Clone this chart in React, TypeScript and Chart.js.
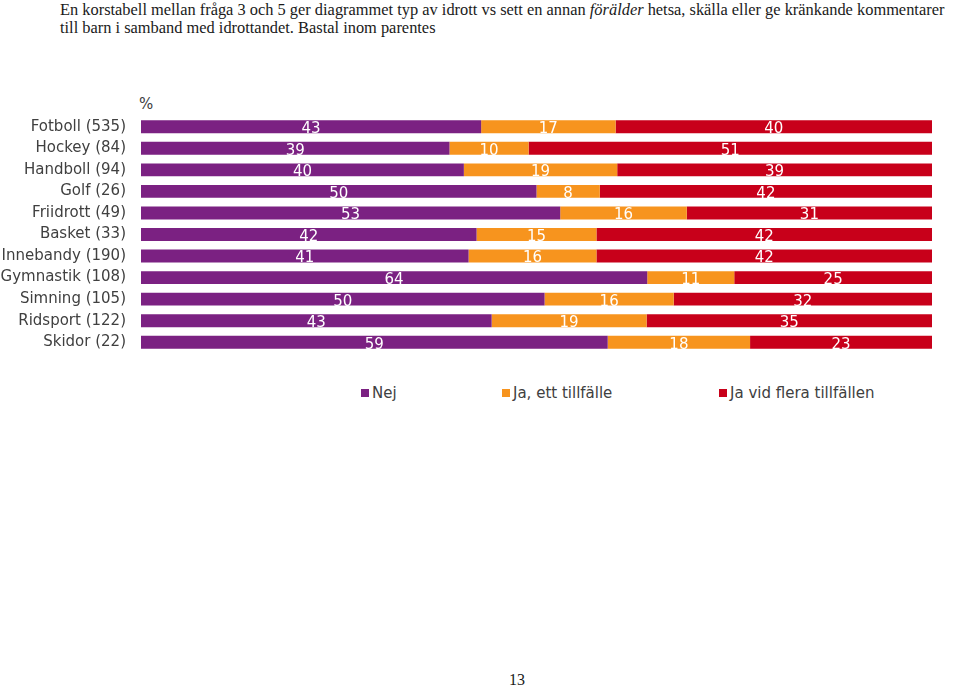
import React, { useEffect, useRef } from "react";
import { Chart, registerables } from "chart.js";

Chart.register(...registerables);

const categories = [
  "Fotboll (535)",
  "Hockey (84)",
  "Handboll (94)",
  "Golf (26)",
  "Friidrott (49)",
  "Basket (33)",
  "Innebandy (190)",
  "Gymnastik (108)",
  "Simning (105)",
  "Ridsport (122)",
  "Skidor (22)",
];
const nej = [43, 39, 40, 50, 53, 42, 41, 64, 50, 43, 59];
const jaEtt = [17, 10, 19, 8, 16, 15, 16, 11, 16, 19, 18];
const jaFlera = [40, 51, 39, 42, 31, 42, 42, 25, 32, 35, 23];
const seriesNames = ["Nej", "Ja, ett tillfälle", "Ja vid flera tillfällen"];
const seriesColors = ["#7b2182", "#f7941e", "#c8001a"];

const FONT = "'DejaVu Sans', Verdana, sans-serif";

export default function App() {
  const ref = useRef<HTMLCanvasElement | null>(null);

  useEffect(() => {
    if (!ref.current) return;
    const raw = [nej, jaEtt, jaFlera];
    const totals = categories.map((_, i) => nej[i] + jaEtt[i] + jaFlera[i]);
    const labelPlugin = {
      id: "segLabels",
      afterDatasetsDraw(chart: any) {
        const ctx = chart.ctx;
        ctx.save();
        ctx.fillStyle = "#ffffff";
        ctx.font = `15px ${FONT}`;
        ctx.textAlign = "center";
        ctx.textBaseline = "middle";
        chart.data.datasets.forEach((ds: any, di: number) => {
          const meta = chart.getDatasetMeta(di);
          meta.data.forEach((bar: any, i: number) => {
            const cx = (bar.x + bar.base) / 2;
            ctx.fillText(String(raw[di][i]), cx, bar.y + 2.5);
          });
        });
        ctx.restore();
      },
    };
    const chart = new Chart(ref.current, {
      type: "bar",
      data: {
        labels: categories,
        datasets: raw.map((arr, di) => ({
          label: seriesNames[di],
          data: arr.map((v, i) => (v / totals[i]) * 100),
          backgroundColor: seriesColors[di],
          borderWidth: 0,
          barPercentage: 0.6,
          categoryPercentage: 1,
        })),
      },
      options: {
        indexAxis: "y",
        animation: false,
        responsive: false,
        maintainAspectRatio: false,
        layout: { padding: { left: 0, right: 28, top: 0, bottom: 0 } },
        plugins: {
          legend: { display: false },
          tooltip: { enabled: false },
          title: { display: false },
        },
        scales: {
          x: {
            display: false,
            stacked: true,
            min: 0,
            max: 100,
          },
          y: {
            stacked: true,
            grid: { display: false, drawTicks: false },
            border: { display: false },
            ticks: {
              padding: 15,
              color: "#404040",
              font: { family: FONT, size: 15 },
            },
            afterFit: (scale: any) => {
              scale.width = 141;
              scale.paddingTop = 0;
              scale.paddingBottom = 0;
            },
          },
        },
      },
      plugins: [labelPlugin],
    });
    return () => chart.destroy();
  }, []);

  const serif = "'Liberation Serif', 'Times New Roman', serif";
  const legendItems = [
    { x: 361, name: seriesNames[0], color: seriesColors[0] },
    { x: 502, name: seriesNames[1], color: seriesColors[1] },
    { x: 719, name: seriesNames[2], color: seriesColors[2] },
  ];

  return (
    <div
      style={{
        position: "absolute",
        left: 0,
        top: 0,
        width: 960,
        height: 688,
        background: "#fff",
        overflow: "hidden",
      }}
    >
      <div
        style={{
          position: "absolute",
          left: 60,
          top: 1,
          fontFamily: serif,
          fontSize: 16.4,
          lineHeight: "18px",
          color: "#1a1a1a",
          whiteSpace: "nowrap",
        }}
      >
        <div>
          En korstabell mellan fråga 3 och 5 ger diagrammet typ av idrott vs sett en annan{" "}
          <i>förälder</i> hetsa, skälla eller ge kränkande kommentarer
        </div>
        <div>till barn i samband med idrottandet. Bastal inom parentes</div>
      </div>
      <div
        style={{
          position: "absolute",
          left: 139,
          top: 95,
          fontFamily: FONT,
          fontSize: 15,
          color: "#404040",
        }}
      >
        %
      </div>
      <canvas
        ref={ref}
        width={960}
        height={237}
        style={{ position: "absolute", left: 0, top: 116, width: 960, height: 237 }}
      />
      {legendItems.map((it) => (
        <div
          key={it.name}
          style={{
            position: "absolute",
            left: it.x,
            top: 384,
            display: "flex",
            alignItems: "center",
            fontFamily: FONT,
            fontSize: 15,
            color: "#404040",
            whiteSpace: "nowrap",
            lineHeight: "18px",
          }}
        >
          <span
            style={{
              display: "inline-block",
              width: 8,
              height: 8,
              background: it.color,
              marginRight: 3,
            }}
          />
          {it.name}
        </div>
      ))}
      <div
        style={{
          position: "absolute",
          left: 509,
          top: 671,
          fontFamily: serif,
          fontSize: 16,
          color: "#1a1a1a",
        }}
      >
        13
      </div>
    </div>
  );
}
